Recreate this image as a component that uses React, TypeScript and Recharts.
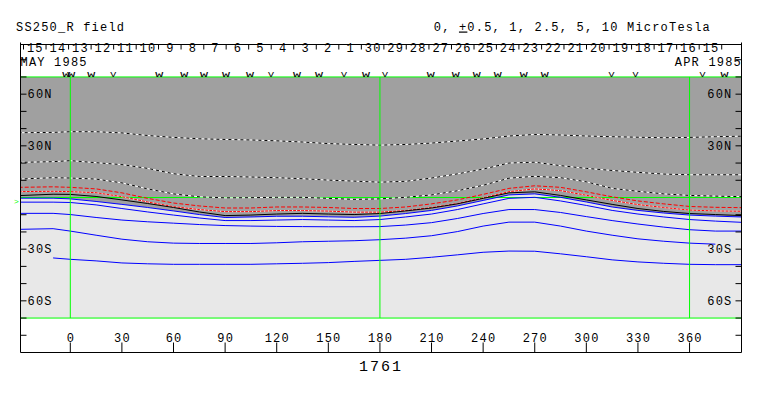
import { ComposedChart, Line, Area, XAxis, YAxis } from "recharts"

// longitude grid (Carrington deg) the contours are read at
const lons = [-30, -10, 0, 15, 30, 45, 60, 75, 90, 105, 120, 135, 150, 165, 180, 195, 210, 225, 240, 255, 270, 285, 300, 315, 330, 345, 360, 375, 390]

// contour latitudes
const dotted1 = [37.6, 37.8, 38.2, 38.2, 37.5, 36.0, 34.9, 34.1, 33.7, 33.4, 32.9, 32.2, 31.3, 30.8, 30.4, 30.8, 31.6, 32.8, 34.0, 35.7, 36.6, 36.3, 35.7, 35.3, 35.0, 34.7, 34.9, 35.3, 35.6]
const dotted2 = [20.4, 20.8, 21.4, 20.2, 19.1, 16.9, 13.8, 12.2, 12.2, 11.9, 11.5, 10.9, 10.1, 9.5, 8.9, 9.4, 11.3, 13.7, 16.5, 20.0, 20.5, 18.5, 16.9, 15.7, 14.6, 13.6, 13.2, 13.2, 13.2]
const dotted3 = [10.7, 11.5, 11.3, 10.7, 8.5, 5.0, 2.1, 0.4, -0.2, -0.1, 0.1, 0.1, -0.5, -1.1, -0.8, 0.1, 1.5, 3.9, 7.1, 11.2, 12.3, 11.5, 9.1, 5.3, 3.6, 2.1, 1.2, 0.8, 0.5]
const red1 = [5.9, 6.2, 5.9, 5.0, 2.7, -0.5, -3.2, -4.9, -6.1, -6.1, -5.5, -5.5, -5.8, -6.4, -6.4, -5.5, -3.7, -1.4, 1.8, 5.3, 6.8, 5.9, 3.3, 0.4, -2.0, -3.7, -5.2, -5.7, -5.9]
const red2 = [3.4, 3.6, 3.4, 2.8, 0.5, -2.6, -5.3, -7.0, -8.2, -8.2, -7.6, -7.6, -7.9, -8.5, -8.5, -7.6, -5.8, -3.5, -0.2, 3.4, 5.0, 4.0, 1.3, -1.7, -4.1, -5.8, -7.3, -7.8, -8.0]
const black0 = [1.1, 1.9, 1.8, 0.6, -1.4, -3.5, -5.8, -8.4, -10.5, -10.2, -9.6, -9.2, -9.6, -9.9, -9.3, -7.8, -6.1, -3.7, -0.5, 2.7, 3.3, 1.2, -1.4, -4.0, -6.4, -8.1, -9.3, -9.9, -10.5]
const blue1 = [-0.4, -0.4, -0.8, -2.3, -4.0, -5.8, -7.8, -9.9, -11.6, -11.3, -10.9, -10.9, -11.2, -11.5, -10.8, -9.3, -7.5, -4.9, -1.7, 1.5, 2.1, 0.1, -2.6, -5.5, -7.5, -9.0, -10.2, -10.8, -11.3]
const blue2 = [-2.7, -2.7, -2.9, -4.3, -6.4, -8.4, -10.2, -11.9, -13.4, -13.4, -13.1, -12.8, -13.1, -13.4, -12.8, -11.3, -9.6, -7.0, -3.7, -0.5, 0.1, -2.0, -4.6, -7.5, -9.6, -11.3, -12.8, -13.7, -14.4]
const blue3 = [-9.2, -9.2, -9.9, -11.6, -13.1, -14.1, -14.9, -15.7, -16.3, -16.6, -16.8, -16.9, -17.0, -17.0, -16.9, -16.0, -14.6, -12.2, -9.3, -7.0, -7.0, -8.7, -11.1, -13.4, -15.4, -17.2, -18.7, -19.5, -19.5]
const blue4 = [-18.5, -18.1, -19.5, -21.9, -24.2, -25.7, -26.5, -26.7, -26.7, -26.7, -26.3, -25.7, -25.4, -25.1, -24.5, -23.6, -22.2, -19.8, -16.6, -14.3, -14.3, -16.6, -19.5, -21.9, -24.0, -25.4, -26.5, -27.1, null]
const blue5 = [null, -35.1, -35.9, -36.8, -38.0, -38.5, -38.8, -38.8, -38.8, -38.8, -38.5, -38.2, -37.8, -37.1, -36.5, -35.9, -34.7, -33.3, -31.8, -31.1, -31.2, -32.7, -34.4, -36.2, -37.4, -38.2, -38.8, -39.0, -39.0]

// axes
const lonDomain = [-28.95, 390.2]
const latDomain = [-90, 90]
const mapLat = [-70, 70]
const meridians = [0, 180, 360]
const lonTicks = [0, 30, 60, 90, 120, 150, 180, 210, 240, 270, 300, 330, 360]
const latTicks = [-80, -70, -60, -50, -40, -30, -20, -10, 10, 20, 30, 40, 50, 60, 70, 80]
const latLabels: Record<number, string> = { 60: "60N", 30: "30N", [-30]: "30S", [-60]: "60S" }

// time strip (days run right to left)
const daySeps = [-27.2, -14.1, -1.0, 12.1, 25.2, 38.3, 51.3, 64.4, 77.6, 90.6, 103.7, 116.8, 129.9, 143.0, 156.1, 169.2, 182.3, 195.3, 208.5, 221.6, 234.7, 247.7, 260.8, 274.0, 287.0, 300.1, 313.2, 326.3, 339.4, 352.5, 365.6, 378.7]
const dayLabels = ["15", "14", "13", "12", "11", "10", "9", "8", "7", "6", "5", "4", "3", "2", "1", "30", "29", "28", "27", "26", "25", "24", "23", "22", "21", "20", "19", "18", "17", "16", "15"]
const markLons = [-2.3, 0.6, 12.2, 25, 51.7, 66.2, 77.7, 90.5, 104.5, 116.7, 131.8, 144.6, 159.1, 171.9, 182.9, 209.6, 224.1, 236.3, 248.5, 263.6, 275.8, 314.7, 328.6, 367.5, 380.3]
const markTypes = ["W", "W", "W", "V", "W", "W", "W", "W", "W", "V", "W", "W", "V", "W", "V", "W", "W", "W", "W", "W", "W", "V", "V", "V", "W"]

const rows = lons.map((lon, i) => ({
  lon,
  d1: dotted1[i],
  d2: dotted2[i],
  d3: dotted3[i],
  r1: red1[i],
  r2: red2[i],
  k: black0[i],
  b1: blue1[i],
  b2: blue2[i],
  b3: blue3[i],
  b4: blue4[i],
  b5: blue5[i],
  light: [mapLat[0], blue1[i]],
  dark: [blue1[i], mapLat[1]],
}))

const dayCenters = dayLabels.map((_, i) => (daySeps[i] + daySeps[i + 1]) / 2)

const FONT = "'Liberation Mono', 'DejaVu Sans Mono', monospace"
const GREEN = "#00ff00"

const txt = { fontFamily: FONT, fontSize: 12, letterSpacing: 1.2, fill: "#000" }

const LeftLatTick = ({ x, y, payload }: any) => (
  <text x={x} y={y} dy={4} textAnchor="start" {...txt}>{latLabels[payload.value] ?? ""}</text>
)
const RightLatTick = ({ x, y, payload }: any) => (
  <text x={x} y={y} dy={4} textAnchor="end" {...txt}>{latLabels[payload.value] ?? ""}</text>
)
const LonTick = ({ x, y, payload }: any) => (
  <text x={x + 0.6} y={y} textAnchor="middle" {...txt}>{payload.value}</text>
)
const DayTick = ({ x, y, payload }: any) => (
  <text x={x + 0.6} y={y} dy={9.5} textAnchor="middle" {...txt}>
    {dayLabels[dayCenters.indexOf(payload.value)]}
  </text>
)
const MarkTick = ({ x, y, payload }: any) => {
  const m = markTypes[markLons.indexOf(payload.value)]
  return (
    <text x={x} y={y} dy={33.5} textAnchor="middle" fontFamily={FONT} fontSize={7.5} textLength={m === "W" ? 8 : 6} lengthAdjust="spacingAndGlyphs" fill="#000">
      {m}
    </text>
  )
}
const Empty = () => <g />

const line = { type: "linear" as const, dot: false, activeDot: false, isAnimationActive: false, strokeWidth: 1 }

export default function App() {
  return (
    <ComposedChart
      width={747}
      height={380}
      data={rows}
      margin={{ top: 34.5, right: 13.5, bottom: 35.5, left: 12.5 }}
      style={{ background: "#fff" }}
    >
      <XAxis dataKey="lon" type="number" domain={lonDomain} allowDataOverflow ticks={lonTicks} interval={0} height={1} mirror tickSize={10} tickMargin={1} stroke="#000" tick={LonTick} />
      <XAxis xAxisId="seps" dataKey="lon" type="number" orientation="top" domain={lonDomain} allowDataOverflow ticks={daySeps} interval={0} height={1} mirror tickSize={5} stroke="#000" tick={Empty} />
      <XAxis xAxisId="days" dataKey="lon" type="number" orientation="top" domain={lonDomain} allowDataOverflow ticks={dayCenters} interval={0} height={1} mirror tickSize={0} tickMargin={0} axisLine={false} tickLine={false} tick={DayTick} />
      <XAxis xAxisId="marks" dataKey="lon" type="number" orientation="top" domain={lonDomain} allowDataOverflow ticks={markLons} interval={0} height={1} mirror tickSize={0} tickMargin={0} axisLine={false} tickLine={false} tick={MarkTick} />
      <YAxis type="number" domain={latDomain} allowDataOverflow ticks={latTicks} interval={0} width={1} mirror tickSize={6} tickMargin={1} stroke="#000" tick={LeftLatTick} />
      <YAxis yAxisId="r" orientation="right" type="number" domain={latDomain} allowDataOverflow ticks={latTicks} interval={0} width={1} mirror tickSize={6} tickMargin={3} stroke="#000" tick={RightLatTick} />

      <Area dataKey="dark" type="linear" stroke="none" fill="#a0a0a0" fillOpacity={1} isAnimationActive={false} activeDot={false} />
      <Area dataKey="light" type="linear" stroke="none" fill="#e8e8e8" fillOpacity={1} isAnimationActive={false} activeDot={false} />

      <Line {...line} data={lonDomain.map((lon) => ({ lon, g: 0 }))} dataKey="g" stroke={GREEN} />

      <Line {...line} dataKey="d1" stroke="#fff" />
      <Line {...line} dataKey="d1" stroke="#000" strokeDasharray="3 3" />
      <Line {...line} dataKey="d2" stroke="#fff" />
      <Line {...line} dataKey="d2" stroke="#000" strokeDasharray="3 3" />
      <Line {...line} dataKey="d3" stroke="#fff" />
      <Line {...line} dataKey="d3" stroke="#000" strokeDasharray="3 3" />
      <Line {...line} dataKey="r1" stroke="#ff0000" strokeDasharray="4 2" />
      <Line {...line} dataKey="r2" stroke="#fff" />
      <Line {...line} dataKey="r2" stroke="#ff0000" strokeDasharray="3 1" />
      <Line {...line} dataKey="k" stroke="#000" />
      <Line {...line} dataKey="b1" stroke="#0000ff" />
      <Line {...line} dataKey="b2" stroke="#0000ff" />
      <Line {...line} dataKey="b3" stroke="#0000ff" />
      <Line {...line} dataKey="b4" stroke="#0000ff" />
      <Line {...line} dataKey="b5" stroke="#0000ff" />

      {mapLat.map((lat) => (
        <Line key={`p${lat}`} {...line} data={lonDomain.map((lon) => ({ lon, g: lat }))} dataKey="g" stroke={GREEN} />
      ))}
      {meridians.map((m) => (
        <Line key={`m${m}`} {...line} data={mapLat.map((lat) => ({ lon: m, g: lat }))} dataKey="g" stroke={GREEN} />
      ))}

      <text x={8} y={22.5} {...txt}>SS250_R field</text>
      <text x={703} y={22.5} textAnchor="end" {...txt}>
        0, <tspan textDecoration="underline">+</tspan>0.5, 1, 2.5, 5, 10 MicroTesla
      </text>
      <text x={12.5} y={58} {...txt}>MAY 1985</text>
      <text x={734} y={58} textAnchor="end" {...txt}>APR 1985</text>
      <text x={6} y={196} fontFamily={FONT} fontSize={8} fill={GREEN}>&gt;</text>
      <text x={373} y={363} textAnchor="middle" fontFamily={FONT} fontSize={15} letterSpacing={2} fill="#000">1761</text>
    </ComposedChart>
  )
}
